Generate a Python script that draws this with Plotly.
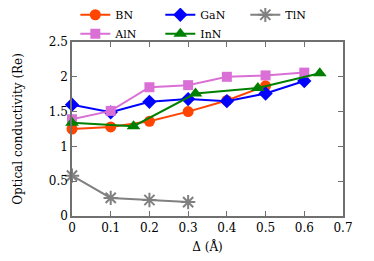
import plotly.graph_objects as go

bn_x = [0, 0.1, 0.2, 0.3, 0.4, 0.5]
bn_y = [1.25, 1.28, 1.36, 1.50, 1.66, 1.87]
aln_x = [0, 0.1, 0.2, 0.3, 0.4, 0.5, 0.6]
aln_y = [1.39, 1.51, 1.85, 1.88, 2.00, 2.02, 2.06]
gan_x = [0, 0.1, 0.2, 0.3, 0.4, 0.5, 0.6]
gan_y = [1.60, 1.49, 1.64, 1.68, 1.65, 1.76, 1.94]
inn_x = [0, 0.159, 0.319, 0.48, 0.64]
inn_y = [1.34, 1.29, 1.76, 1.84, 2.05]
tln_x = [0, 0.1, 0.2, 0.3]
tln_y = [0.58, 0.26, 0.23, 0.20]

x_ticks = [0, 0.1, 0.2, 0.3, 0.4, 0.5, 0.6, 0.7]
y_ticks = [0, 0.5, 1, 1.5, 2, 2.5]

series = [
    ("BN", bn_x, bn_y, "#FF4500", "circle", 11),
    ("GaN", gan_x, gan_y, "#0000FF", "diamond", 11),
    ("TlN", tln_x, tln_y, "#808080", "asterisk-open", 12),
    ("AlN", aln_x, aln_y, "#DA70D6", "square", 10),
    ("InN", inn_x, inn_y, "#008000", "triangle-up", 12),
]

FONT = "DejaVu Serif"

fig = go.Figure()
for name, xs, ys, col, sym, sz in series:
    fig.add_trace(go.Scatter(
        x=xs, y=ys, name=name, mode="lines+markers",
        line=dict(color=col, width=2),
        marker=dict(symbol=sym, size=sz, color=col,
                    line=dict(color=col, width=2 if "open" in sym else 0)),
        cliponaxis=False,
    ))

axis_common = dict(
    showgrid=False, zeroline=False, showline=True, linecolor="#707070", linewidth=1.5,
    mirror="ticks", ticks="inside", ticklen=5, tickcolor="#707070",
    tickfont=dict(family=FONT, size=12, color="black"),
)
fig.update_xaxes(range=[0, 0.7], tickvals=x_ticks, ticktext=[str(v) for v in x_ticks],
                 title=dict(text="Δ (Å)", font=dict(family=FONT, size=12, color="black"), standoff=8),
                 **axis_common)
fig.update_yaxes(range=[0, 2.5], tickvals=y_ticks, ticktext=[str(v) for v in y_ticks],
                 **axis_common)

fig.add_annotation(text="Optical conductivity (Re)", xref="paper", yref="paper",
                   x=-0.2, y=0.5, xanchor="center", yanchor="middle", textangle=-90,
                   showarrow=False, font=dict(family=FONT, size=12, color="black"))

fig.update_layout(
    width=374, height=261,
    margin=dict(l=64, r=39, t=34, b=53, autoexpand=False),
    paper_bgcolor="white", plot_bgcolor="white",
    showlegend=True,
    legend=dict(orientation="h", xref="container", yref="paper",
                x=0.18, y=1.24, xanchor="left", yanchor="top",
                entrywidth=40, entrywidthmode="pixels",
                font=dict(family=FONT, size=11, color="black"),
                bgcolor="rgba(0,0,0,0)", tracegroupgap=0, itemwidth=30),
    font=dict(family=FONT),
)

fig.write_html("out.html")
